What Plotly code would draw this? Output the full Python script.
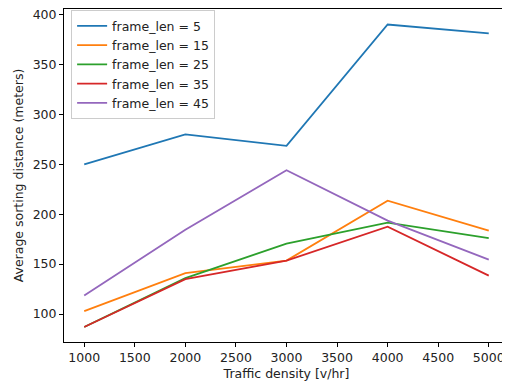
import plotly.graph_objects as go

density = [1000, 2000, 3000, 4000, 5000]
frame_len_5 = [250, 280, 268.5, 390, 381]
frame_len_15 = [103, 141, 153.5, 213.5, 183.5]
frame_len_25 = [87, 136, 170.5, 191.5, 176]
frame_len_35 = [87, 135, 153.5, 187.5, 138.5]
frame_len_45 = [118.5, 184.5, 244, 193.5, 154.5]

series = [
    ("frame_len = 5", frame_len_5, "#1f77b4"),
    ("frame_len = 15", frame_len_15, "#ff7f0e"),
    ("frame_len = 25", frame_len_25, "#2ca02c"),
    ("frame_len = 35", frame_len_35, "#d62728"),
    ("frame_len = 45", frame_len_45, "#9467bd"),
]

fig = go.Figure()
for name, vals, color in series:
    fig.add_trace(go.Scatter(x=density, y=vals, mode="lines", name=name,
                             line=dict(color=color, width=1.8)))

font = dict(family="DejaVu Sans", size=12.5, color="#222222")
axis_common = dict(
    showline=True, linecolor="black", linewidth=1, mirror=True,
    ticks="outside", ticklen=4, tickcolor="black", tickwidth=1,
    showgrid=False, zeroline=False, tickfont=font, automargin=False,
    ticklabeloverflow="allow",
)
# The page body has an 8px default margin, so the figure is sized to fit the 510x381 window.
fig.update_layout(
    width=502, height=373,
    margin=dict(l=56, r=1, t=1, b=39, pad=0),
    paper_bgcolor="white", plot_bgcolor="white",
    font=font,
    xaxis=dict(range=[800, 5200], tickvals=[1000, 1500, 2000, 2500, 3000, 3500, 4000, 4500, 5000],
               title=dict(text="Traffic density [v/hr]", font=font, standoff=6), **axis_common),
    yaxis=dict(range=[72, 405.5], tickvals=[100, 150, 200, 250, 300, 350, 400],
               title=dict(text="Average sorting distance (meters)", font=font, standoff=6), **axis_common),
    legend=dict(x=0.016, y=0.996, xanchor="left", yanchor="top",
                bordercolor="#cccccc", borderwidth=1, bgcolor="rgba(255,255,255,0.8)",
                font=font, itemwidth=30, tracegroupgap=0),
    showlegend=True,
)
fig.write_html("out.html")
